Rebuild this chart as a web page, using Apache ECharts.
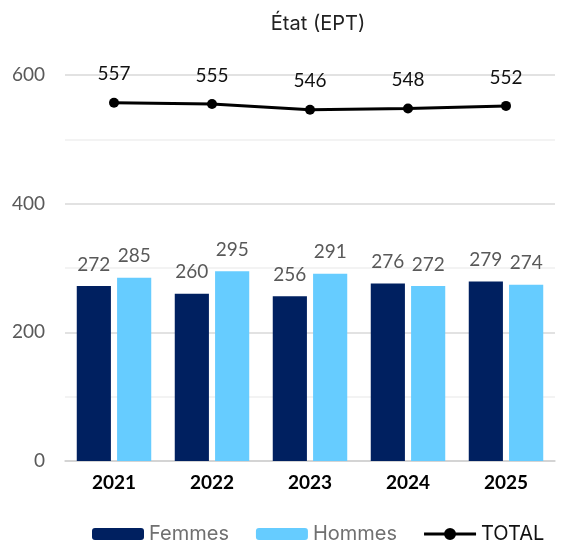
<!DOCTYPE html>
<html>
<head>
<meta charset="utf-8">
<script src="https://cdn.jsdelivr.net/npm/echarts@6/dist/echarts.min.js"></script>
<style>html,body{margin:0;padding:0;background:#fff}#c{width:565px;height:549px}</style>
</head>
<body>
<div id="c"></div>
<script>
const categories = ['2021', '2022', '2023', '2024', '2025'];
const femmes = [272, 260, 256, 276, 279];
const hommes = [285, 295, 291, 272, 274];
const total = [557, 555, 546, 548, 552];
const yTicks = [0, 200, 400, 600];

const FONT = 'Lato';
const FONT2 = 'Inter';
const lineIcon = 'path://M0,4.5L21,4.5L21,7.5L0,7.5ZM31,4.5L52,4.5L52,7.5L31,7.5ZM26,0A6,6 0 1,1 26,12A6,6 0 1,1 26,0Z';
const chart = echarts.init(document.getElementById('c'), null, {renderer: 'canvas'});
chart.setOption({
  animation: false,
  backgroundColor: '#fff',
  textStyle: {fontFamily: FONT},
  title: {
    text: 'État (EPT)', left: 313, top: 9, textAlign: 'center',
    textStyle: {fontFamily: FONT2, fontSize: 20, fontWeight: 'normal', color: '#222'}
  },
  legend: {
    top: 519, left: 87, itemWidth: 52, itemHeight: 12, itemGap: 27,
    textStyle: {fontFamily: FONT2, fontSize: 20, color: '#707070'},
    data: [
      {name: 'Femmes'},
      {name: 'Hommes'},
      {name: 'TOTAL', icon: lineIcon, textStyle: {color: '#111'}, itemStyle: {color: '#000'}}
    ]
  },
  grid: {left: 65, right: 10, top: 75, bottom: 88, containLabel: false},
  xAxis: {
    type: 'category', data: categories,
    axisTick: {show: false},
    axisLine: {lineStyle: {color: '#d0d0d0', width: 1.5}},
    axisLabel: {fontFamily: FONT, fontSize: 19, fontWeight: 'bold', color: '#000', margin: 12}
  },
  yAxis: {
    type: 'value', min: yTicks[0], max: yTicks[yTicks.length - 1], interval: 200,
    axisLine: {show: false}, axisTick: {show: false},
    axisLabel: {fontFamily: FONT, fontSize: 19, color: '#595959', margin: 20},
    splitLine: {lineStyle: {color: '#d9d9d9', width: 1.5}},
    minorTick: {show: false, splitNumber: 2},
    minorSplitLine: {show: true, lineStyle: {color: '#f0f0f0', width: 1.5}}
  },
  series: [
    {
      name: 'Femmes', type: 'bar', data: femmes, barGap: '18%', barCategoryGap: '24%',
      itemStyle: {color: '#002060'},
      label: {show: true, position: 'top', distance: 12, fontFamily: FONT, fontSize: 19, color: '#595959'}
    },
    {
      name: 'Hommes', type: 'bar', data: hommes,
      itemStyle: {color: '#66CCFF'},
      label: {show: true, position: 'top', distance: 12, fontFamily: FONT, fontSize: 19, color: '#595959'}
    },
    {
      name: 'TOTAL', type: 'line', data: total,
      symbol: 'circle', symbolSize: 10,
      lineStyle: {color: '#000', width: 3},
      itemStyle: {color: '#000'},
      label: {show: true, position: 'top', distance: 14, fontFamily: FONT, fontSize: 19, color: '#111'}
    }
  ]
});
</script>
</body>
</html>
